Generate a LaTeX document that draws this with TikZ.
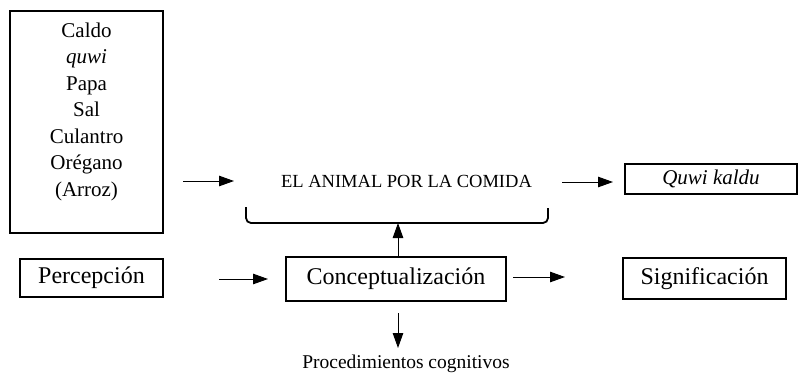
\documentclass[tikz,border=0pt]{standalone}
\usepackage{fontspec}
\setmainfont{Liberation Serif}
\usetikzlibrary{arrows.meta}

\tikzset{
  box/.style={draw, line width=1.1pt, inner sep=0pt},
  arr/.style={-{Triangle[length=15pt,width=10.5pt]}, line width=1pt},
  big/.style={font=\fontsize{24}{28}\selectfont},
  mid/.style={font=\fontsize{21}{26.5}\selectfont}
}

\begin{document}
\begin{tikzpicture}[x=1pt, y=-1pt]

        \useasboundingbox (0, 0) rectangle (798, 375);

        \node[box, minimum width=153, minimum height=222] (ingr) at (86.5, 122) {};
        \node[mid, align=center] (ingrtext) at (86.5, 111.5)
          {Caldo\\ \textit{quwi}\\ Papa\\ Sal\\ Culantro\\ Orégano\\ (Arroz)};

        \node[font=\fontsize{18.5}{22}\selectfont] (animal) at (406.5, 181) {EL ANIMAL POR LA COMIDA};
        \node[box, mid, minimum width=172, minimum height=30] (quwi) at (711, 179) {\textit{Quwi kaldu}};

        \node[box, big, minimum width=143, minimum height=38] (perc) at (91.5, 278) {Percepción};
        \node[box, big, minimum width=220, minimum height=44] (concept) at (396, 279) {Conceptualización};
        \node[box, big, minimum width=163, minimum height=41] (signif) at (704.5, 278.5) {Significación};

        \node[font=\fontsize{19.5}{23}\selectfont, anchor=base] (proc) at (406, 368) {Procedimientos cognitivos};

        % bracket under the meaning
        \draw[line width=1.8pt, rounded corners=5pt] (246, 207) -- (246, 223) -- (548, 223) -- (548, 208);

        \coordinate (a1s) at (183, 181); \coordinate (a1e) at (234, 181);
        \coordinate (a2s) at (562, 182); \coordinate (a2e) at (613, 182);
        \coordinate (a3s) at (219, 279); \coordinate (a3e) at (268, 279);
        \coordinate (a4s) at (513, 277); \coordinate (a4e) at (565, 277);
        \coordinate (brk) at (398, 223);
        \coordinate (dn) at (398, 313); \coordinate (dne) at (398, 348);

        \draw[arr] (a1s) -- (a1e);
        \draw[arr] (a2s) -- (a2e);
        \draw[arr] (a3s) -- (a3e);
        \draw[arr] (a4s) -- (a4e);
        \draw[arr] (concept.north -| brk) -- (brk);
        \draw[arr] (dn) -- (dne);

\end{tikzpicture}
\end{document}
